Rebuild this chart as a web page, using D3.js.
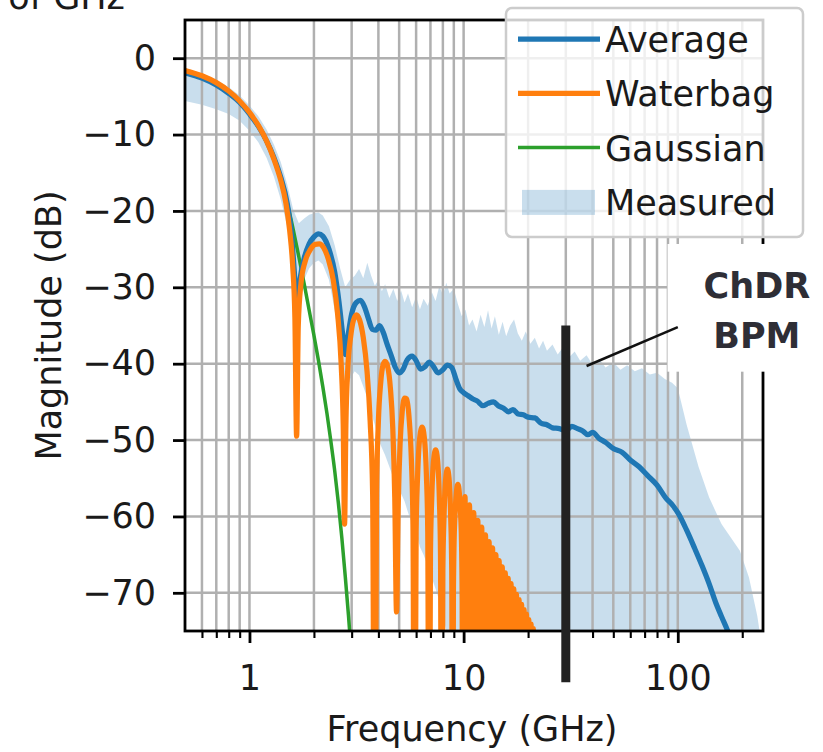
<!DOCTYPE html>
<html>
<head>
<meta charset="utf-8">
<script src="https://cdn.jsdelivr.net/npm/d3@7"></script>
<style>
  body { margin: 0; background: #fff; }
  svg { display: block; font-family: "DejaVu Sans", sans-serif; }
</style>
</head>
<body>
<svg id="chart" width="823" height="752"></svg>
<script>
// ---- data: [frequency GHz, magnitude dB] ----
const average = [
  [0.5,-1.9],[0.6,-2.6],[0.7,-3.5],[0.8,-4.6],[0.9,-5.8],[1.0,-7.3],[1.1,-8.9],[1.2,-10.8],
  [1.3,-13.0],[1.4,-15.6],[1.5,-19.0],[1.57,-23.0],[1.62,-28.0],[1.66,-32.5],[1.72,-29.0],
  [1.8,-26.2],[1.9,-24.3],[2.0,-23.4],[2.1,-23.0],[2.2,-23.3],[2.35,-25.0],[2.5,-28.0],
  [2.62,-32.0],[2.72,-36.0],[2.8,-38.8],[2.88,-36.5],[3.0,-33.5],[3.15,-32.0],[3.3,-31.7],
  [3.45,-32.6],[3.6,-34.2],[3.75,-35.5],[3.9,-35.6],[4.05,-35.0],[4.2,-35.8],[4.4,-37.5],
  [4.6,-39.0],[4.8,-40.5],[5.0,-41.2],[5.2,-40.8],[5.45,-39.5],[5.75,-39.0],[6.0,-39.6],
  [6.3,-40.7],[6.6,-40.4],[6.9,-39.8],[7.2,-40.3],[7.6,-41.2],[8.0,-40.8],[8.4,-40.2],
  [8.8,-40.5],[9.2,-42.0],[9.6,-43.3],[10,-43.8],[10.5,-44.2],[11,-44.6],[11.6,-44.9],
  [12.3,-45.5],[13,-45.2],[13.8,-45.0],[14.5,-45.5],[15.3,-45.8],[16.2,-46.3],[17,-46.0],
  [18,-46.6],[19,-46.7],[20,-47.0],[21.5,-47.1],[23,-47.8],[24.5,-48.0],[26,-48.4],
  [28,-48.5],[30,-48.8],[32,-48.2],[34,-48.5],[36,-48.8],[38,-49.3],[40,-49.0],[43,-49.8],
  [46,-50.3],[50,-51.1],[55,-51.6],[60,-52.6],[66,-53.5],[72,-54.6],[80,-55.9],[88,-57.6],
  [95,-58.6],[101,-59.7],[110,-61.8],[120,-64.2],[130,-66.5],[140,-68.8],[150,-71.2],
  [160,-73.1],[170,-74.8],[180,-76.5],[195,-79]
];

const waterbag = [
  [0.5,-1.6],[0.6,-2.3],[0.7,-3.2],[0.8,-4.3],[0.9,-5.6],[1.0,-7.1],[1.1,-8.8],[1.2,-10.8],
  [1.3,-13.2],[1.4,-16.0],[1.48,-19.0],[1.54,-22.5],[1.59,-27],[1.63,-34],[1.66,-49.5],
  [1.69,-35],[1.74,-29.5],[1.82,-26.6],[1.92,-25.1],[2.02,-24.4],[2.12,-24.3],[2.22,-24.8],
  [2.34,-26.4],[2.46,-29],[2.58,-33.5],[2.68,-40],[2.74,-48],[2.78,-61],
  [2.82,-48],[2.88,-40.5],[2.97,-36.4],[3.06,-34.3],[3.16,-33.6],[3.27,-34.3],[3.4,-36.6],
  [3.54,-41],[3.66,-47.5],[3.76,-57],[3.84,-110],
  [3.92,-57],[4.0,-47.5],[4.1,-42.5],[4.2,-40.2],[4.3,-39.7],[4.42,-40.4],[4.55,-43.2],
  [4.67,-48.5],[4.77,-57.5],[4.86,-72.5],
  [4.95,-58.5],[5.05,-50.5],[5.17,-46.2],[5.3,-44.5],[5.42,-44.6],[5.56,-47],[5.7,-52.5],
  [5.8,-61],[5.9,-110],
  [6.0,-62],[6.1,-54.5],[6.25,-49.5],[6.4,-48.3],[6.55,-49.6],[6.7,-54.5],[6.8,-62],[6.9,-110],
  [7.0,-65],[7.1,-57.5],[7.25,-52.5],[7.4,-51.3],[7.55,-52.5],[7.7,-57.5],[7.8,-65],[7.9,-110],
  [8.0,-67],[8.1,-60],[8.25,-55],[8.4,-53.8],[8.55,-55],[8.7,-60],[8.8,-67],[8.9,-110],
  [8.96,-69.8],[9.08,-60.8],[9.4,-55.8],[9.72,-60.8],[9.84,-69.8],[9.9,-110],
  [10.15,-57.4],[10.4,-110],[10.65,-58.5],[10.9,-110],[11.15,-59.5],[11.4,-110],
  [11.65,-60.5],[11.9,-110],[12.15,-61.4],[12.4,-110],[12.65,-62.4],[12.9,-110],
  [13.15,-63.3],[13.4,-110],[13.65,-64.1],[13.9,-110],[14.15,-65.0],[14.4,-110],
  [14.65,-65.8],[14.9,-110],[15.15,-66.6],[15.4,-110],[15.65,-67.4],[15.9,-110],
  [16.15,-68.1],[16.4,-110],[16.65,-68.8],[16.9,-110],[17.15,-69.5],[17.4,-110],
  [17.65,-70.2],[17.9,-110],[18.15,-70.9],[18.4,-110],[18.65,-71.5],[18.9,-110],
  [19.15,-72.2],[19.4,-110],[19.65,-72.8],[19.9,-110],[20.15,-73.5],[20.4,-110],
  [20.65,-74.1],[20.9,-110],[21.15,-74.7],[21.4,-110],[21.65,-75.3],[21.9,-110]
];

const gaussian = [
  [0.5,-1.7],[0.6,-2.4],[0.7,-3.3],[0.8,-4.4],[0.9,-5.7],[1.0,-7.2],[1.1,-8.9],[1.2,-10.9],
  [1.3,-13.1],[1.4,-15.7],[1.5,-18.9],[1.6,-22.4],[1.7,-26],[1.8,-29.5],[1.9,-33],
  [2.0,-36.3],[2.1,-39.6],[2.2,-43],[2.3,-46.5],[2.4,-50.2],[2.5,-54],[2.6,-58.2],
  [2.7,-62.8],[2.8,-67.8],[2.9,-73],[3.0,-78.5]
];

// measured spread: [frequency GHz, lower dB, upper dB]
const measured = [
  [0.5,-5.6,-1.3],[0.6,-6.1,-2.0],[0.7,-6.7,-2.8],[0.8,-7.3,-3.8],[0.9,-8.2,-4.9],
  [1.0,-9.5,-6.2],[1.1,-11.0,-7.6],[1.2,-13.0,-9.3],[1.3,-15.5,-11.3],[1.4,-18.5,-13.6],
  [1.5,-22.0,-16.5],[1.6,-27.0,-19.8],[1.7,-33.0,-21.6],[1.8,-29.0,-21.0],[1.9,-27.5,-20.5],
  [2.0,-26.8,-20.3],[2.1,-26.5,-20.2],[2.2,-27.0,-20.6],[2.35,-29.0,-22.0],[2.5,-33.0,-24.5],
  [2.65,-38.0,-27.5],[2.8,-44.0,-30.0],[2.95,-42.0,-29.0],[3.1,-41.0,-28.5],[3.25,-41.5,-27.6],
  [3.4,-43.0,-28.8],[3.55,-44.5,-26.8],[3.7,-46.5,-28.5],[3.85,-48.0,-29.8],[4.0,-50.0,-29.0],
  [4.15,-51.0,-30.5],[4.3,-52.0,-29.6],[4.5,-53.5,-31.4],[4.7,-55.0,-30.2],[4.9,-56.0,-31.8],
  [5.1,-57.0,-30.4],[5.3,-58.0,-32.0],[5.5,-59.5,-30.8],[5.75,-61.0,-32.6],[6.0,-62.0,-31.2],
  [6.25,-64.0,-32.9],[6.5,-65.0,-31.5],[6.8,-66.5,-32.4],[7.1,-68.0,-30.6],[7.4,-69.5,-31.8],
  [7.7,-71.0,-29.8],[8.0,-73.0,-31.0],[8.3,-75.0,-29.4],[8.6,-77.0,-30.8],[9.0,-80,-30.2],
  [9.4,-90,-32.2],[9.8,-90,-33.8],[10.2,-90,-32.9],[10.6,-90,-35.0],[11.0,-90,-34.2],
  [11.5,-90,-35.8],[12.0,-90,-33.6],[12.5,-90,-35.2],[13.0,-90,-33.0],[13.5,-90,-35.4],
  [14.0,-90,-33.8],[14.6,-90,-36.2],[15.2,-90,-34.5],[15.8,-90,-36.4],[16.5,-90,-35.0],
  [17.2,-90,-34.2],[17.9,-90,-36.0],[18.7,-90,-37.0],[19.5,-90,-35.8],[20.5,-90,-37.4],
  [21.5,-90,-36.6],[22.5,-90,-38.0],[23.5,-90,-37.0],[24.5,-90,-38.3],[26,-90,-37.5],
  [27.5,-90,-38.8],[29,-90,-37.9],[31,-90,-39.2],[33,-90,-38.4],[35,-90,-39.6],
  [37.5,-90,-38.9],[40,-90,-40.1],[43,-90,-39.4],[46,-90,-40.5],[50,-90,-39.8],
  [54,-90,-40.8],[58,-90,-40.2],[63,-90,-41.0],[68,-90,-40.6],[74,-90,-41.4],[80,-90,-41.2],
  [87,-90,-42.0],[94,-90,-42.5],[100,-90,-43.2],[110,-90,-48.0],[125,-90,-53.5],
  [140,-90,-57.5],[160,-90,-61.0],[195,-90,-64.5],[215,-90,-68.0],[235,-90,-73.0],[250,-90,-78.0]
];

const yTicks = [0, -10, -20, -30, -40, -50, -60, -70];
const xMajor = [1, 10, 100];
const xMinor = [0.6, 0.7, 0.8, 0.9, 2, 3, 4, 5, 6, 7, 8, 9, 20, 30, 40, 50, 60, 70, 80, 90, 200];

const seriesNames = ["Average", "Waterbag", "Gaussian", "Measured"];
const colors = { blue: "#1f77b4", orange: "#ff7f0e", green: "#2ca02c" };

// BPM marker and its label
const bpmFreq = 30, bpmTop = -35, bpmBottom = -81.7;
const notePoint = [37.5, -40.3], noteEnd = [100, -35.2];
const noteFreq = 234, noteDb = -33.0;

// ---- layout ----
const svg = d3.select("#chart");
const plot = { left: 185, right: 763, top: 20, bottom: 631 };
const fs = 35;

const x = d3.scaleLog().domain([0.5, 250]).range([plot.left, plot.right]);
const y = d3.scaleLinear().domain([-75, 5]).range([plot.bottom, plot.top]);

svg.append("defs").append("clipPath").attr("id", "clip")
  .append("rect")
  .attr("x", plot.left).attr("y", plot.top)
  .attr("width", plot.right - plot.left).attr("height", plot.bottom - plot.top);

// measured band
svg.append("path")
  .datum(measured)
  .attr("clip-path", "url(#clip)")
  .attr("fill", colors.blue)
  .attr("fill-opacity", 0.24)
  .attr("d", d3.area().x(d => x(d[0])).y0(d => y(d[1])).y1(d => y(d[2])));

// grid (major + minor on x, major on y)
const grid = svg.append("g").attr("stroke", "#b0b0b0").attr("stroke-width", 2.5);
grid.selectAll(".vx").data(xMajor.concat(xMinor)).enter().append("line")
  .attr("x1", d => x(d)).attr("x2", d => x(d))
  .attr("y1", plot.top).attr("y2", plot.bottom);
grid.selectAll(".hy").data(yTicks).enter().append("line")
  .attr("x1", plot.left).attr("x2", plot.right)
  .attr("y1", d => y(d)).attr("y2", d => y(d));

// curves
const line = d3.line().x(d => x(d[0])).y(d => y(d[1])).curve(d3.curveMonotoneX);
const curves = svg.append("g").attr("clip-path", "url(#clip)").attr("fill", "none");
curves.append("path").datum(gaussian).attr("d", line)
  .attr("stroke", colors.green).attr("stroke-width", 3.5);
curves.append("path").datum(average).attr("d", line)
  .attr("stroke", colors.blue).attr("stroke-width", 5.25).attr("stroke-linejoin", "round");
curves.append("path").datum(waterbag).attr("d", line)
  .attr("stroke", colors.orange).attr("stroke-width", 5.25).attr("stroke-linejoin", "round");

// axes
const xAxisMajor = d3.axisBottom(x).tickValues(xMajor).tickFormat(d3.format("d"))
  .tickSize(12).tickPadding(22);
const xAxisMinor = d3.axisBottom(x).tickValues(xMinor).tickFormat("").tickSize(7);
const yAxis = d3.axisLeft(y).tickValues(yTicks).tickFormat(d3.format("d"))
  .tickSize(12).tickPadding(17);

const gx = svg.append("g").attr("transform", `translate(0,${plot.bottom})`).call(xAxisMajor);
const gxm = svg.append("g").attr("transform", `translate(0,${plot.bottom})`).call(xAxisMinor);
const gy = svg.append("g").attr("transform", `translate(${plot.left},0)`).call(yAxis);
[gx, gxm, gy].forEach(g => {
  g.select(".domain").remove();
  g.selectAll(".tick text").attr("font-size", fs).attr("fill", "#1a1a1a")
    .attr("font-family", "DejaVu Sans, sans-serif");
});
gx.selectAll(".tick line").attr("stroke", "#000").attr("stroke-width", 2.8);
gy.selectAll(".tick line").attr("stroke", "#000").attr("stroke-width", 2.8);
gxm.selectAll(".tick line").attr("stroke", "#000").attr("stroke-width", 2.1);

svg.append("rect")
  .attr("x", plot.left).attr("y", plot.top)
  .attr("width", plot.right - plot.left).attr("height", plot.bottom - plot.top)
  .attr("fill", "none").attr("stroke", "#000").attr("stroke-width", 2.8);

svg.append("text")
  .attr("x", (plot.left + plot.right) / 2 - 2).attr("y", 741)
  .attr("text-anchor", "middle").attr("font-size", fs).attr("fill", "#1a1a1a")
  .text("Frequency (GHz)");

svg.append("text")
  .attr("transform", `translate(61,${(plot.top + plot.bottom) / 2}) rotate(-90)`)
  .attr("text-anchor", "middle").attr("font-size", fs).attr("fill", "#1a1a1a")
  .text("Magnitude (dB)");

// BPM marker
svg.append("line")
  .attr("x1", x(bpmFreq)).attr("x2", x(bpmFreq))
  .attr("y1", y(bpmTop)).attr("y2", y(bpmBottom))
  .attr("stroke", "#222").attr("stroke-width", 9);

// annotation with white box
const note = svg.append("g");
const noteBox = note.append("rect").attr("fill", "#fff");
note.append("line")
  .attr("x1", x(notePoint[0])).attr("y1", y(notePoint[1]))
  .attr("x2", x(noteEnd[0])).attr("y2", y(noteEnd[1]))
  .attr("stroke", "#111").attr("stroke-width", 2.5);
const noteText = note.append("text")
  .attr("x", x(noteFreq)).attr("y", y(noteDb))
  .attr("text-anchor", "middle").attr("font-size", fs).attr("font-weight", "bold")
  .attr("fill", "#2e2e36");
noteText.append("tspan").attr("x", x(noteFreq)).attr("dy", "-0.35em").text("ChDR");
noteText.append("tspan").attr("x", x(noteFreq)).attr("dy", "1.42em").text("BPM");
const nb = noteText.node().getBBox();
noteBox.attr("x", nb.x - 36).attr("y", nb.y - 22)
  .attr("width", nb.width + 72).attr("height", nb.height + 38);

// legend
const legend = svg.append("g").attr("transform", "translate(506,8)");
legend.append("rect")
  .attr("width", 297).attr("height", 229).attr("rx", 6)
  .attr("fill", "#fff").attr("fill-opacity", 0.8)
  .attr("stroke", "#cccccc").attr("stroke-width", 2.5);
const legendColors = [colors.blue, colors.orange, colors.green, colors.blue];
seriesNames.forEach((name, i) => {
  const row = legend.append("g").attr("transform", `translate(0,${31 + i * 54.3})`);
  if (i < 3) {
    row.append("line").attr("x1", 12).attr("x2", 94).attr("y1", 0).attr("y2", 0)
      .attr("stroke", legendColors[i]).attr("stroke-width", i === 2 ? 3.5 : 5.25);
  } else {
    row.append("rect").attr("x", 16).attr("y", -12).attr("width", 73).attr("height", 25)
      .attr("fill", colors.blue).attr("fill-opacity", 0.24);
  }
  row.append("text").attr("x", 99).attr("y", 13)
    .attr("font-size", fs).attr("fill", "#1a1a1a").text(name);
});

// clipped caption line from above the figure
svg.append("text")
  .attr("x", 125).attr("y", 9).attr("text-anchor", "end")
  .attr("font-size", fs).attr("fill", "#1a1a1a").text("of GHz");
</script>
</body>
</html>
